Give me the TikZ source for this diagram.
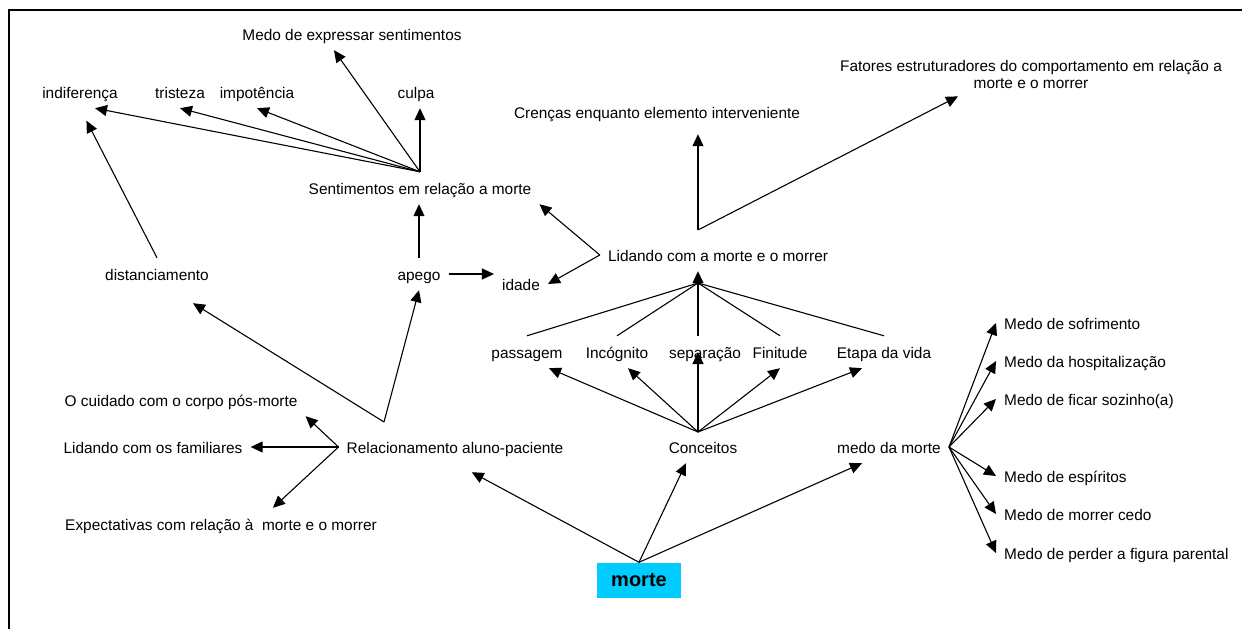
\documentclass[tikz,border=0pt]{standalone}
\usepackage{fontspec}
\setmainfont{Liberation Sans}
\usepackage{tikz}
\usetikzlibrary{arrows.meta, positioning}
\definecolor{mortecyan}{RGB}{0,204,255}

\begin{document}
\begin{tikzpicture}[x=1pt, y=-1pt,
            lbl/.style={font=\fontsize{15.4}{17}\selectfont, inner xsep=8pt, inner ysep=8.5pt, text height=13.5pt, text depth=1.5pt},
            arrow/.style={-{Triangle[length=12pt, width=11pt]}, line width=1.1pt},
            link/.style={line width=1.1pt}]

            \useasboundingbox (0,0) rectangle (1242,629);
            \draw[line width=2pt] (9,629) -- (9,10) -- (1242,10);

            \node[lbl] (medoexp) at (352,34) {Medo de expressar sentimentos};
            \node[lbl] (indif) at (80,92) {indiferença};
            \node[lbl] (tristeza) at (180,92) {tristeza};
            \node[lbl] (impot) at (257,92) {impotência};
            \node[lbl] (culpa) at (416,92) {culpa};
            \node[lbl] (sent) at (420,188) {Sentimentos em relação a morte};
            \node[lbl] (distanc) at (157,274) {distanciamento};
            \node[lbl] (apego) at (419,274) {apego};
            \node[lbl] (idade) at (521,284) {idade};
            \node[lbl] (crencas) at (657,112) {Crenças enquanto elemento interveniente};
            \node[font=\fontsize{15.4}{17}\selectfont, align=center, inner sep=8pt] (fatores) at (1031,74) {Fatores estruturadores do comportamento em relação a\\morte e o morrer};
            \node[lbl] (lidando) at (718,255) {Lidando com a morte e o morrer};
            \node[lbl] (passagem) at (527,352) {passagem};
            \node[lbl] (incognito) at (617,352) {Incógnito};
            \node[lbl] (separacao) at (705,352) {separação};
            \node[lbl] (finitude) at (780,352) {Finitude};
            \node[lbl] (etapa) at (884,352) {Etapa da vida};
            \node[lbl] (cuidado) at (181,400) {O cuidado com o corpo pós-morte};
            \node[lbl] (familiares) at (153,447) {Lidando com os familiares};
            \node[lbl] (expect) at (221,524) {Expectativas com relação à\ \ morte e o morrer};
            \node[lbl] (relacion) at (455,447) {Relacionamento aluno-paciente};
            \node[lbl] (conceitos) at (703,447) {Conceitos};
            \node[lbl] (medo) at (889,447) {medo da morte};
            \node[lbl, anchor=west] (sofr) at (996,323) {Medo de sofrimento};
            \node[lbl, anchor=west] (hosp) at (996,361) {Medo da hospitalização};
            \node[lbl, anchor=west] (sozinho) at (996,399) {Medo de ficar sozinho(a)};
            \node[lbl, anchor=west] (espiritos) at (996,476) {Medo de espíritos};
            \node[lbl, anchor=west] (cedo) at (996,514) {Medo de morrer cedo};
            \node[lbl, anchor=west] (parental) at (996,553) {Medo de perder a figura parental};
            \node[fill=mortecyan, minimum width=84pt, minimum height=35pt, font=\fontsize{20}{24}\selectfont\bfseries] (morte) at (639,580) {morte};

            \coordinate (lidtop) at (698,230);
            \coordinate (lidbot) at (698,283);
            \coordinate (conhub) at (698,432);
            \coordinate (relhub) at (384,422);

            \draw[arrow] (sent.north) -- ([xshift=15pt]indif.south);
            \draw[arrow] (sent.north) -- (tristeza.south);
            \draw[arrow] (sent.north) -- (impot.south);
            \draw[arrow] (sent.north) -- ([xshift=-18pt]medoexp.south);
            \draw[arrow] (sent.north) -- (sent.north |- culpa.south);
            \draw[arrow] (apego.north) -- (apego.north |- sent.south);
            \draw[arrow, shorten >=14pt] (distanc.north) -- (indif.south);
            \draw[arrow] (apego.east) -- (apego.east -| idade.west);

            \draw[arrow] (lidando.west) -- (sent.south east);
            \draw[arrow] (lidando.west) -- (idade.east);
            \draw[arrow, shorten >=6pt] (lidtop) -- (lidtop |- crencas.south);
            \draw[arrow] (lidtop) -- ([xshift=-73pt]fatores.south);
            \foreach \n in {passagem, incognito, finitude, etapa}
                \draw[link] (\n.north) -- (lidbot);
            \draw[arrow] (lidbot |- separacao.north) -- (lidbot |- lidando.south);

            \draw[arrow] (conhub) -- ([xshift=22pt]passagem.south);
            \draw[arrow] (conhub) -- ([xshift=11pt]incognito.south);
            \draw[arrow] (conhub) -- (conhub |- separacao);
            \draw[arrow] (conhub) -- (finitude.south);
            \draw[arrow] (conhub) -- ([xshift=-22pt]etapa.south);

            \draw[arrow, shorten >=19pt] (morte.north) -- (relacion.south);
            \draw[arrow] (morte.north) -- ([xshift=-17pt]conceitos.south);
            \draw[arrow] (morte.north) -- ([xshift=-27pt]medo.south);

            \draw[arrow] (relhub) -- ([xshift=36pt, yshift=-13pt]distanc.south);
            \draw[arrow] (relhub) -- (apego.south);
            \draw[arrow] (relacion.west) -- (cuidado.south east);
            \draw[arrow] (relacion.west) -- (familiares.east);
            \draw[arrow] (relacion.west) -- ([xshift=52pt]expect.north);

            \foreach \n in {sofr, hosp, sozinho, espiritos, cedo, parental}
                \draw[arrow] (medo.east) -- (\n.west);
        \end{tikzpicture}
\end{document}
